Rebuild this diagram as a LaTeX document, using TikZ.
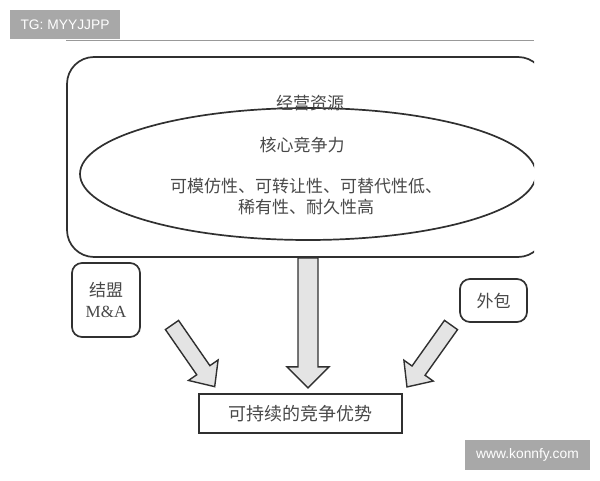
\documentclass[tikz,border=0pt]{standalone}
\usepackage{fontspec}
\setmainfont{Liberation Serif}
\newfontfamily\cjk{Noto Sans CJK SC}
\newfontfamily\wmark{Liberation Sans}
\usetikzlibrary{shapes, calc, positioning}
\definecolor{L}{HTML}{303030}
\definecolor{T}{HTML}{484848}
\definecolor{G}{HTML}{E4E4E4}
\definecolor{W}{HTML}{A8A8A8}

\tikzset{
  box/.style = {draw=L, line width=1.7pt, text=T,
    font=\cjk\fontsize{17}{21}\selectfont},
  txt/.style = {text=T, font=\cjk\fontsize{17}{21}\selectfont},
  fatbody/.style = {draw=L, line width=1.4pt, fill=G, line join=miter},
  tag/.style = {fill=W, text=white, inner sep=0pt,
    font=\wmark\fontsize{13.8}{15}\selectfont},
  pics/fatarrow/.style args = {#1/#2/#3/#4}{code = {
      \draw[fatbody] (0,-#2) -- ({#1-#4},-#2) -- ({#1-#4},-#3) -- (#1,0)
      -- ({#1-#4},#3) -- ({#1-#4},#2) -- (0,#2) -- cycle;
    }}
}

\begin{document}
\begin{tikzpicture}[x=1pt, y=1pt]
  \useasboundingbox (0,0) rectangle (600,480);

  \node[tag, minimum width=110, minimum height=29] (tg) at (65,455.5) {TG: MYYJJPP};
  \draw[gray!80, line width=0.8pt] (66,440) -- (534,440);

  % the scan is cut at the right
  \begin{scope}
    \clip (0,0) rectangle (534,480);
    \node[box, rounded corners=27pt, minimum width=478, minimum height=200]
    (res) at (306,323) {};
    \node[box, ellipse, minimum width=456, minimum height=132]
    (core) at (308,306) {};
  \end{scope}

  \node[txt] (restitle) at (310,377) {经营资源};
  \node[txt] (coretitle) at (302,335) {核心竞争力};
  \node[txt, align=center] (traits) at (306,283)
  {可模仿性、可转让性、可替代性低、\\稀有性、耐久性高};

  \node[box, rounded corners=10pt, minimum width=68, minimum height=74,
  align=center] (ally) at (106,180) {结盟\\{\rmfamily M\&A}};
  \node[box, rounded corners=10pt, minimum width=67, minimum height=43]
  (outsrc) at (493.5,179.5) {外包};
  \node[box, minimum width=203, minimum height=39,
  font=\cjk\fontsize{18}{21}\selectfont] (goal) at (300.5,66.5) {可持续的竞争优势};

  \coordinate (atail) at (172,155);
  \coordinate (otail) at (451,155);

  \pic[rotate=-90] at ([xshift=2pt]res.south) {fatarrow=130/10/21/21};
  \pic[rotate=-55.3] at (atail) {fatarrow=75/8/18/20};
  \pic[rotate=-125.4] at (otail) {fatarrow=76/8/18/20};

  \node[tag, minimum width=125, minimum height=30] (site) at (527.5,25) {www.konnfy.com};
\end{tikzpicture}
\end{document}
